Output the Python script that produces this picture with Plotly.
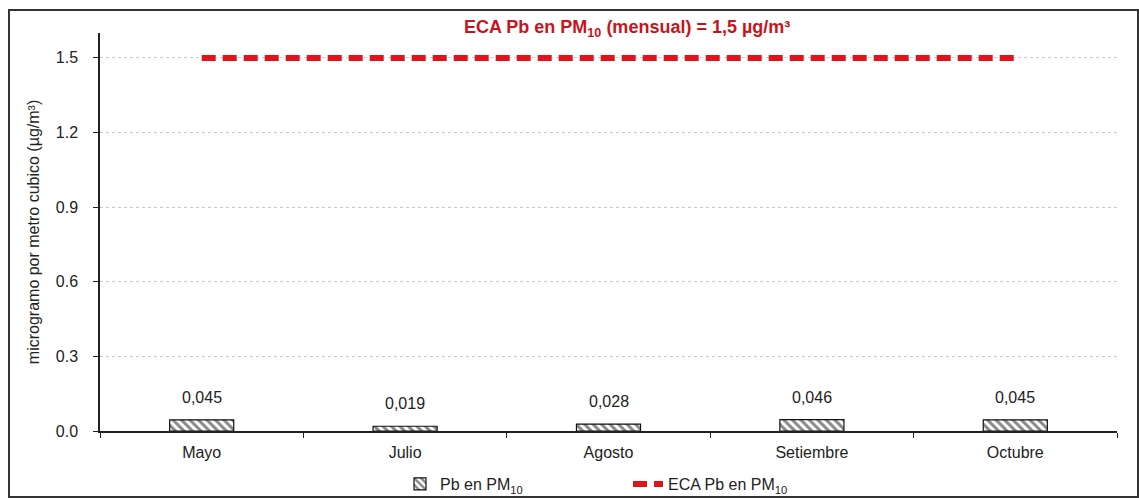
import plotly.graph_objects as go

months = ["Mayo", "Julio", "Agosto", "Setiembre", "Octubre"]
pb_values = [0.045, 0.019, 0.028, 0.046, 0.045]
pb_labels = ["0,045", "0,019", "0,028", "0,046", "0,045"]
eca_values = [1.5, 1.5, 1.5, 1.5, 1.5]
y_ticks = [0.0, 0.3, 0.6, 0.9, 1.2, 1.5]
y_tick_labels = ["0.0", "0.3", "0.6", "0.9", "1.2", "1.5"]

FONT = "Liberation Sans, Arial, sans-serif"

fig = go.Figure()
fig.add_trace(go.Bar(
    x=months, y=pb_values, name="Pb en PM<sub>10</sub>",
    width=0.315,
    marker=dict(color="white", line=dict(color="#111", width=1.2),
                pattern=dict(shape="\\", fgcolor="#111", bgcolor="white",
                             size=6, solidity=0.5)),
))
fig.add_trace(go.Scatter(
    x=months, y=eca_values, name="ECA Pb en PM<sub>10</sub>",
    mode="lines", line=dict(color="#e3131b", width=6, dash="14px,7px"),
))

for m, v, t in zip(months, pb_values, pb_labels):
    fig.add_annotation(x=m, y=v, text=t, showarrow=False, yanchor="bottom",
                       yshift=12, font=dict(size=16, color="#222", family=FONT))

W, H = 1139, 499
L, R, T, B = 100, 22, 33, 68
pw, ph = W - L - R, H - T - B

fig.add_shape(type="rect", xref="paper", yref="paper",
              x0=(9 - L) / pw, x1=(W - 1 - L) / pw,
              y0=-(B - 2) / ph, y1=1 + (T - 10) / ph,
              line=dict(color="#333", width=2), layer="below")

fig.add_annotation(
    text="ECA Pb en PM<sub>10</sub> (mensual) = 1,5 µg/m³",
    xref="paper", yref="paper", x=(627 - L) / pw, y=1 + 5 / ph,
    showarrow=False, yanchor="middle",
    font=dict(size=18, color="#c8141a", family=FONT, weight="bold"),
)

fig.update_layout(
    width=W, height=H,
    margin=dict(l=L, r=R, t=T, b=B, autoexpand=False),
    paper_bgcolor="white", plot_bgcolor="white",
    font=dict(family=FONT, size=16, color="#222"),
    showlegend=True,
    legend=dict(orientation="h", x=(400 - L) / pw, xanchor="left",
                y=-(36 / ph), yanchor="top", font=dict(size=16),
                entrywidth=183, entrywidthmode="pixels",
                bgcolor="rgba(0,0,0,0)", traceorder="normal"),
)
fig.update_xaxes(
    showline=True, linecolor="#222", linewidth=1.5,
    ticks="outside", ticklen=5, tickcolor="#222", tickson="boundaries",
    tickfont=dict(size=16), showgrid=False, ticklabelstandoff=6,
)
fig.update_yaxes(
    range=[0, 1.6], tickvals=y_ticks, ticktext=y_tick_labels,
    showline=True, linecolor="#222", linewidth=1.5,
    ticks="outside", ticklen=5, tickcolor="#222", ticklabelstandoff=12,
    showgrid=True, gridcolor="#c5c9dc", griddash="dot", gridwidth=1,
    zeroline=False, tickfont=dict(size=16),
    title=dict(text="microgramo por metro cubico (µg/m³)", font=dict(size=16), standoff=12),
)

fig.write_html("out.html")
